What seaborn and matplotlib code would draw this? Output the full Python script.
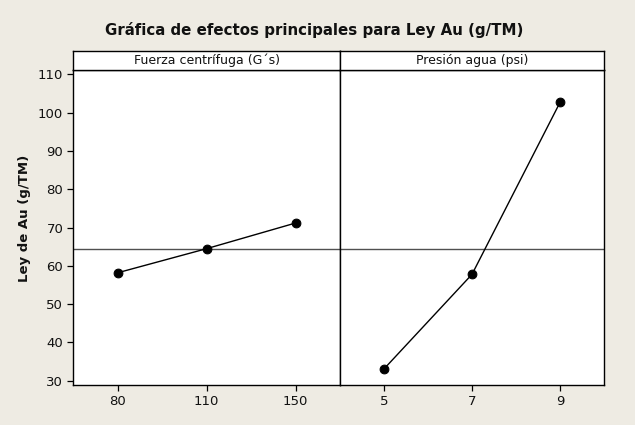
import matplotlib
matplotlib.use("Agg")
import matplotlib.pyplot as plt
import seaborn as sns
import pandas as pd

# ---- data ----
title = "Gráfica de efectos principales para Ley Au (g/TM)"
y_label = "Ley de Au (g/TM)"
factor_names = ["Fuerza centrífuga (G´s)", "Presión agua (psi)"]
fuerza_levels = ["80", "110", "150"]
fuerza_means = [58.2, 64.5, 71.2]
presion_levels = ["5", "7", "9"]
presion_means = [33.1, 57.8, 102.7]
grand_mean = 64.5
y_ticks = [30, 40, 50, 60, 70, 80, 90, 100, 110]

df = pd.concat([
    pd.DataFrame({"factor": factor_names[0], "level": fuerza_levels, "mean": fuerza_means}),
    pd.DataFrame({"factor": factor_names[1], "level": presion_levels, "mean": presion_means}),
])
levels_by_factor = {factor_names[0]: fuerza_levels, factor_names[1]: presion_levels}

sns.set_theme(style="white")
plt.rcParams["font.family"] = ["DejaVu Sans"]

bg = "#EEEBE3"
W, H = 635, 425
fig = plt.figure(figsize=(W / 100, H / 100), dpi=100, facecolor=bg)

def rect(x0, y0, x1, y1):
    return [x0 / W, 1 - y1 / H, (x1 - x0) / W, (y1 - y0) / H]

panel_x = [(73, 340), (340, 604)]
y_top, y_bot, hdr_top = 69.5, 385, 51
y_lim = (28.9, 111.3)

for i, (fname, (x0, x1)) in enumerate(zip(factor_names, panel_x)):
    ax = fig.add_axes(rect(x0, y_top, x1, y_bot))
    ax.set_facecolor("white")
    sub = df[df["factor"] == fname]
    ax.axhline(grand_mean, color="#505050", lw=1.0, zorder=1)
    sns.pointplot(data=sub, x="level", y="mean", order=levels_by_factor[fname],
                  color="black", markers="o", markersize=6.3, linewidth=1.0,
                  errorbar=None, ax=ax)
    ax.set_xlim(-0.5, 2.5)
    ax.set_ylim(*y_lim)
    ax.set_xlabel("")
    ax.set_ylabel("")
    for s in ax.spines.values():
        s.set_color("black")
        s.set_linewidth(1.0)
    ax.tick_params(axis="x", direction="out", length=4, width=0.9, colors="black",
                   labelsize=9.5, pad=3, bottom=True)
    ax.set_yticks(y_ticks)
    if i == 0:
        ax.tick_params(axis="y", direction="out", length=4, width=0.9, colors="black",
                       labelsize=9.5, pad=3, left=True)
    else:
        ax.tick_params(axis="y", left=False, labelleft=False)
    for lab in ax.get_xticklabels() + ax.get_yticklabels():
        lab.set_color("#111111")

    # header strip
    hx = fig.add_axes(rect(x0, hdr_top, x1, y_top))
    hx.set_facecolor("white")
    hx.set_xticks([])
    hx.set_yticks([])
    for s in hx.spines.values():
        s.set_color("black")
        s.set_linewidth(1.0)
    hx.text(0.5, 0.48, fname, ha="center", va="center", fontsize=9, color="#111111",
            transform=hx.transAxes)

fig.text(314.5 / W, 1 - 30.5 / H, title, ha="center", va="center",
         fontsize=10.8, fontweight="bold", color="#111111")
fig.text(25 / W, 1 - 218 / H, y_label, ha="center", va="center", rotation=90,
         fontsize=9.5, fontweight="bold", color="#111111")

fig.savefig("out.png", dpi=100, facecolor=bg)
